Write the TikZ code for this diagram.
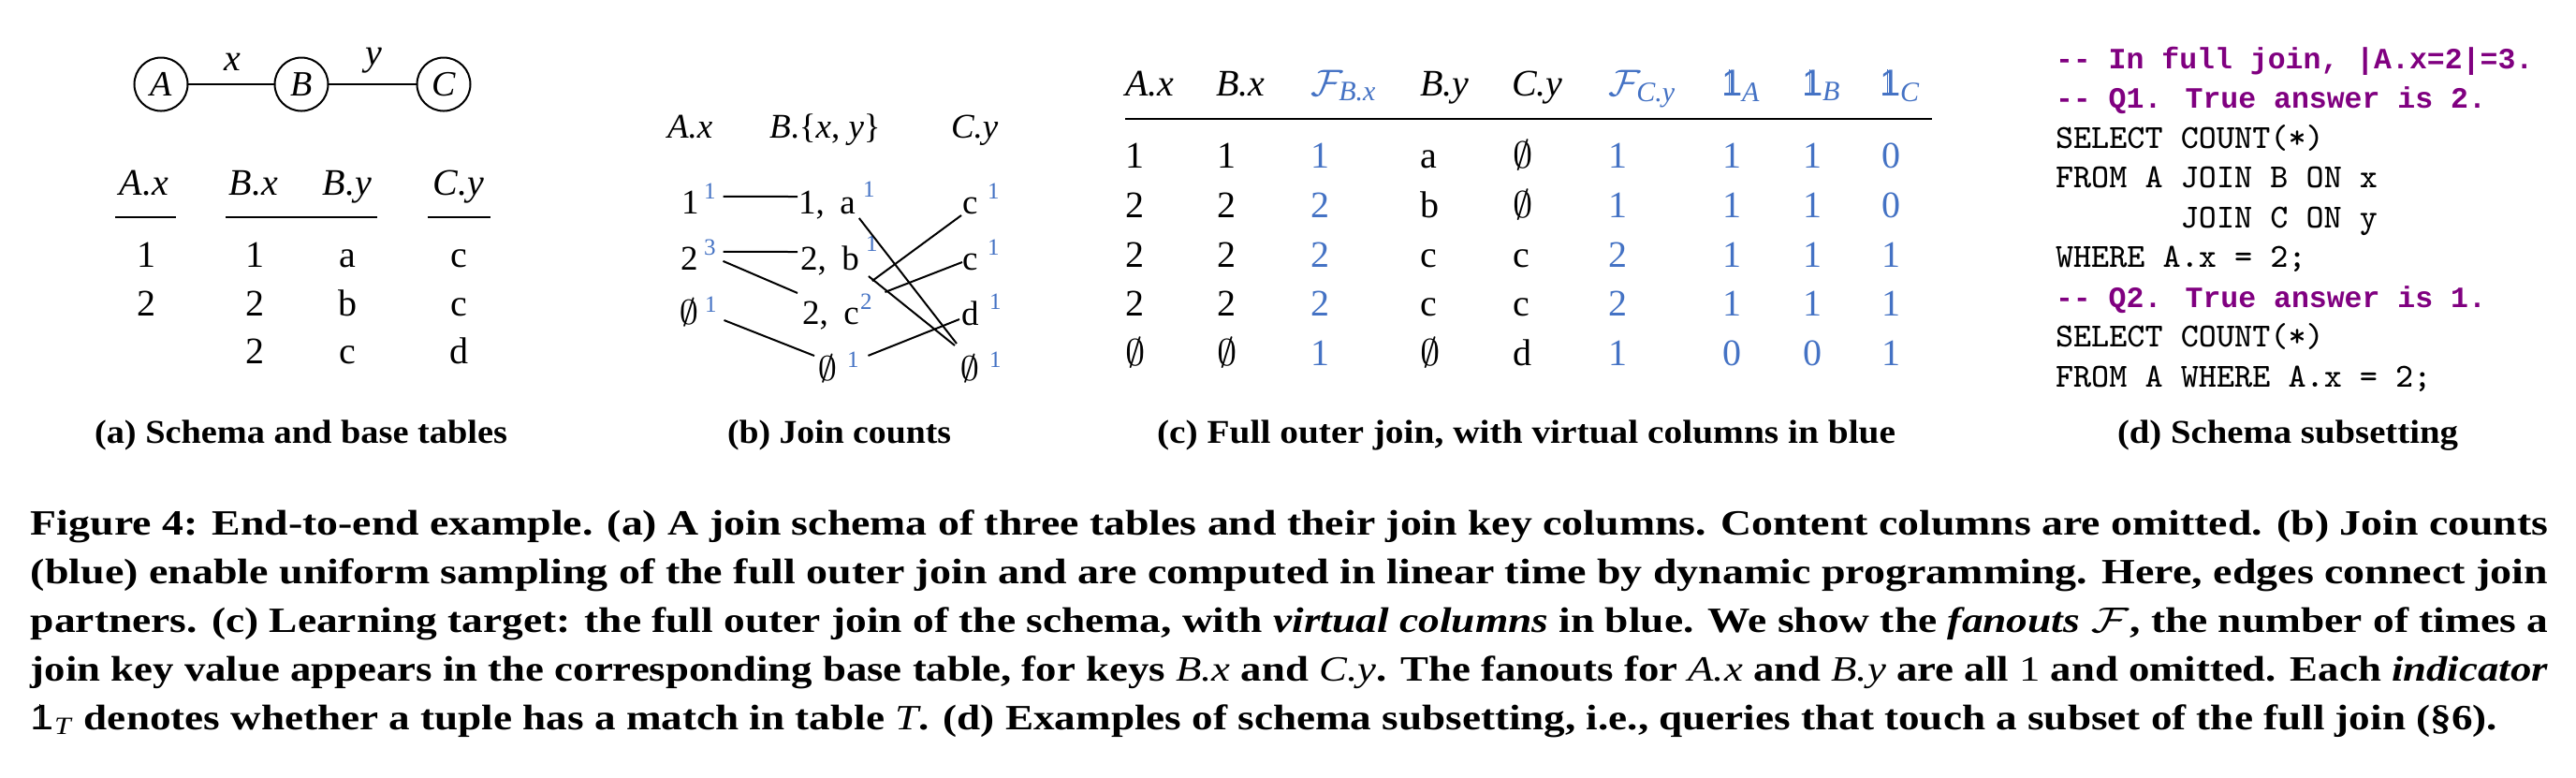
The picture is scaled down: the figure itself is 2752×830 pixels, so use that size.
\documentclass[tikz,border=0pt]{standalone}
\usepackage{fix-cm}
\usepackage{amsmath}
\usepackage{fontspec}
\setmainfont{Liberation Serif}
\newfontfamily\cmtfont{Liberation Mono}
\newfontfamily\sansone{Liberation Sans}
\usepackage{graphicx}
\definecolor{vblue}{RGB}{68,114,196}
\definecolor{cpurple}{RGB}{128,0,128}
\newcommand\pnla{\fontsize{8}{9.5}\selectfont}
\newcommand\pnlb{\fontsize{7.4}{8.5}\selectfont}
\newcommand\pnlc{\fontsize{8}{9}\selectfont}
\newcommand\supfnt{\fontsize{5}{6}\selectfont}
\newcommand\codefnt{\fontsize{7.2}{8.5}\selectfont\ttfamily}
\newcommand\cmtfnt{\fontsize{6.3}{8.5}\selectfont\cmtfont\bfseries}
\newcommand\capfnt{\fontsize{7.6}{10.4}\selectfont\bfseries}
\newcommand\subcapfnt{\fontsize{7.1}{9}\selectfont\bfseries}
\newcommand\mv[1]{\text{\normalfont\itshape #1}}
\newcommand\one{\mbox{\normalfont\sansone\rlap{1}\kern0.19em\rule{0.035em}{0.70em}\kern0.33em}}
\newcommand\nul{\ensuremath{\emptyset}}
\newcommand\gap{\hspace{0.45em}}
\tikzset{
  every node/.style={inner sep=0pt, outer sep=0pt},
  circ/.style={draw, circle, minimum size=11.4pt, line width=0.4pt, font=\fontsize{7.6}{8.5}\selectfont},
  ln/.style={line width=0.4pt},
  rl/.style={line width=0.45pt},
  atx/.style={font=\pnla, anchor=base},
  bt/.style={font=\pnlb, anchor=base west, text height=4.7pt, text depth=0pt},
  bs/.style={font=\supfnt, text=vblue, anchor=base west, text height=3.25pt, text depth=0pt},
  ct/.style={font=\pnlc, anchor=base west},
  blu/.style={text=vblue},
  codeln/.style={font=\codefnt, anchor=base west},
  cmt/.style={font=\cmtfnt, text=cpurple, anchor=base west},
  subcap/.style={font=\subcapfnt, anchor=base west},
  capl/.style={font=\capfnt, anchor=base west}
}
\begin{document}
\begin{tikzpicture}[x=0.2pt, y=-0.2pt]
\fill[white] (0,0) rectangle (2752,830);
\useasboundingbox (0,0) rectangle (2752,830);

% ---------- (a) schema and base tables ----------
\node[circ] (nA) at (172,90) {\mv{A}};
\node[circ] (nB) at (322,90) {\mv{B}};
\node[circ] (nC) at (474,90) {\mv{C}};
\draw[ln] (nA) -- (nB);
\draw[ln] (nB) -- (nC);
\node[atx] (lx) at (248,75) {\mv{x}};
\node[atx] (ly) at (399,69) {\mv{y}};

\node[atx] (hAx) at (154,208) {\mv{A.x}};
\node[atx] (hBx) at (271,208) {\mv{B.x}};
\node[atx] (hBy) at (371,208) {\mv{B.y}};
\node[atx] (hCy) at (490,208) {\mv{C.y}};
\draw[rl] (123,232) -- (188,232);
\draw[rl] (241,232) -- (403,232);
\draw[rl] (457,232) -- (524,232);

\node[atx] (tA1) at (156,285) {1};
\node[atx] (tA2) at (156,337) {2};
\node[atx] (tB1) at (273,285) {1};
\node[atx] (tB2) at (273,337) {2};
\node[atx] (tB3) at (273,388) {2};
\node[atx] (tY1) at (371,285) {a};
\node[atx] (tY2) at (371,337) {b};
\node[atx] (tY3) at (371,388) {c};
\node[atx] (tC1) at (490,285) {c};
\node[atx] (tC2) at (490,337) {c};
\node[atx] (tC3) at (490,388) {d};

\node[subcap] (capa) at (101,473) {\resizebox{88.2pt}{\height}{(a) Schema and base tables}};

% ---------- (b) join counts ----------
\node[font=\pnlb, anchor=base west] (bhA) at (713,147) {\mv{A.x}};
\node[font=\pnlb, anchor=base west] (bhB) at (822,147) {\mv{B}.\{\mv{x}, \mv{y}\}};
\node[font=\pnlb, anchor=base west] (bhC) at (1016,147) {\mv{C.y}};

\node[bt] (a1) at (728,228) {1};
\node[bs] (a1s) at (752,212) {1};
\node[bt] (a2) at (727,288) {2};
\node[bs] (a2s) at (752,272) {3};
\node[bt] (a3) at (725,346) {\nul};
\node[bs] (a3s) at (753,333) {1};

\node[bt] (b1) at (853,228) {1,\gap a};
\node[bs] (b1s) at (922,210) {1};
\node[bt] (b2) at (855,288) {2,\gap b};
\node[bs] (b2s) at (925,268) {1};
\node[bt] (b3) at (857,346) {2,\gap c};
\node[bs] (b3s) at (919,330) {2};
\node[bt] (b4) at (873,406) {\nul};
\node[bs] (b4s) at (905,392) {1};

\node[bt] (c1) at (1028,228) {c};
\node[bs] (c1s) at (1055,212) {1};
\node[bt] (c2) at (1028,288) {c};
\node[bs] (c2s) at (1055,272) {1};
\node[bt] (c3) at (1027,347) {d};
\node[bs] (c3s) at (1057,330) {1};
\node[bt] (c4) at (1025,406) {\nul};
\node[bs] (c4s) at (1057,392) {1};

\draw[ln] ([shift={(8,6)}]a1s.east) -- ([shift={(-1,-6.25)}]b1.west);
\draw[ln] ([shift={(8,5)}]a2s.east) -- ([shift={(-3,-7.25)}]b2.west);
\draw[ln] ([shift={(8,15)}]a2s.east) -- ([shift={(-5,-21.25)}]b3.west);
\draw[ln] ([shift={(8,9)}]a3s.south east) -- ([shift={(-3,-2.5)}]b4.north west);
\draw[ln] ([shift={(10,-4)}]b4s.east) -- ([shift={(-2,5.75)}]c3.west);
\draw[ln] ([shift={(4,5)}]b1.south east) -- ([shift={(-3,-15.5)}]c4.north west);
\draw[ln] ([shift={(10,7)}]b2.south east) -- ([shift={(-5,-13.5)}]c4.north west);
\draw[ln] ([shift={(14,-22.5)}]b3.north east) -- ([shift={(-1,2)}]c1.south west);
\draw[ln] ([shift={(14,-18)}]b3s.south east) -- ([shift={(0,3.75)}]c2.west);

\node[subcap] (capb) at (777,473) {\resizebox{47.8pt}{\height}{(b) Join counts}};

% ---------- (c) full outer join ----------
\node[ct] (h1) at (1202,102) {\mv{A.x}};
\node[ct] (h2) at (1299,102) {\mv{B.x}};
\node[ct,blu] (h3) at (1400,102) {$\mathcal{F}_{\mv{B.x}}$};
\node[ct] (h4) at (1517,102) {\mv{B.y}};
\node[ct] (h5) at (1615,102) {\mv{C.y}};
\node[ct,blu] (h6) at (1718,102) {$\mathcal{F}_{\mv{C.y}}$};
\node[ct,blu] (h7) at (1839,102) {$\one_{\mv{A}}$};
\node[ct,blu] (h8) at (1925,102) {$\one_{\mv{B}}$};
\node[ct,blu] (h9) at (2008,102) {$\one_{\mv{C}}$};
\draw[line width=0.55pt] (1202,127) -- (2064,127);

\foreach \r/\yy/\va/\vb/\vc/\vd/\ve/\vf/\vg/\vh/\vi in {
  1/179/1/1/1/a/\nul/1/1/1/0,
  2/232/2/2/2/b/\nul/1/1/1/0,
  3/285/2/2/2/c/c/2/1/1/1,
  4/337/2/2/2/c/c/2/1/1/1,
  5/390/\nul/\nul/1/\nul/d/1/0/0/1}
{
  \node[ct] (r\r-c1) at (1202,\yy) {\va};
  \node[ct] (r\r-c2) at (1300,\yy) {\vb};
  \node[ct,blu] (r\r-c3) at (1400,\yy) {\vc};
  \node[ct] (r\r-c4) at (1517,\yy) {\vd};
  \node[ct] (r\r-c5) at (1616,\yy) {\ve};
  \node[ct,blu] (r\r-c6) at (1718,\yy) {\vf};
  \node[ct,blu] (r\r-c7) at (1840,\yy) {\vg};
  \node[ct,blu] (r\r-c8) at (1926,\yy) {\vh};
  \node[ct,blu] (r\r-c9) at (2010,\yy) {\vi};
}

\node[subcap] (capc) at (1236,473) {\resizebox{157.8pt}{\height}{(c) Full outer join, with virtual columns in blue}};

% ---------- (d) schema subsetting ----------
\node[cmt] (d1) at (2196,73) {-- In full join, |A.x=2|=3.};
\node[cmt] (d2) at (2196,115.5) {-- Q1. True answer is 2.};
\node[codeln] (d3) at (2196,158) {SELECT COUNT(*)};
\node[codeln] (d4) at (2196,200.5) {FROM A JOIN B ON x};
\node[codeln] (d5) at (2196,243) {\phantom{FROM A }JOIN C ON y};
\node[codeln] (d6) at (2196,285.5) {WHERE A.x = 2;};
\node[cmt] (d7) at (2196,328) {-- Q2. True answer is 1.};
\node[codeln] (d8) at (2196,370.5) {SELECT COUNT(*)};
\node[codeln] (d9) at (2196,413) {FROM A WHERE A.x = 2;};

\node[subcap] (capd) at (2262,473) {\resizebox{72.8pt}{\height}{(d) Schema subsetting}};

% ---------- main caption ----------
\node[capl] (m1) at (33,571) {\resizebox{537.8pt}{\height}{Figure 4: End-to-end example. (a) A join schema of three tables and their join key columns. Content columns are omitted. (b) Join counts}};
\node[capl] (m2) at (33,623) {\resizebox{537.8pt}{\height}{(blue) enable uniform sampling of the full outer join and are computed in linear time by dynamic programming. Here, edges connect join}};
\node[capl] (m3) at (33,675) {\resizebox{537.8pt}{\height}{partners. (c) Learning target: the full outer join of the schema, with \textit{virtual columns} in blue. We show the \textit{fanouts} $\mathcal{F}$, the number of times a}};
\node[capl] (m4) at (33,727) {\resizebox{537.8pt}{\height}{join key value appears in the corresponding base table, for keys \mv{B.x} and \mv{C.y}. The fanouts for \mv{A.x} and \mv{B.y} are all {\mdseries 1} and omitted. Each \textit{indicator}}};
\node[capl] (m5) at (33,779) {\resizebox{527pt}{\height}{$\one_{\mv{T}}$ denotes whether a tuple has a match in table \mv{T}. (d) Examples of schema subsetting, i.e., queries that touch a subset of the full join (\S6).}};
\end{tikzpicture}
\end{document}
